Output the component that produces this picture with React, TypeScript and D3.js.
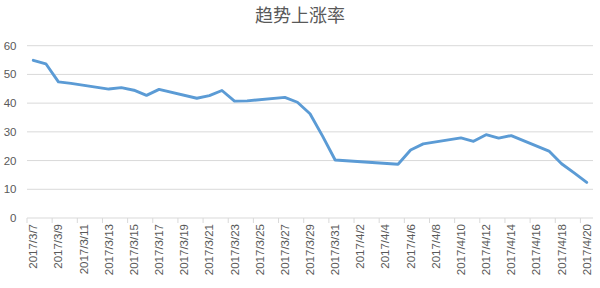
import React from "react";
import * as d3 from "d3";

const dates: string[] = [
  "2017-03-07", "2017-03-08", "2017-03-09", "2017-03-10", "2017-03-13", "2017-03-14",
  "2017-03-15", "2017-03-16", "2017-03-17", "2017-03-20", "2017-03-21", "2017-03-22",
  "2017-03-23", "2017-03-24", "2017-03-27", "2017-03-28", "2017-03-29", "2017-03-30",
  "2017-03-31", "2017-04-05", "2017-04-06", "2017-04-07", "2017-04-10", "2017-04-11",
  "2017-04-12", "2017-04-13", "2017-04-14", "2017-04-17", "2017-04-18", "2017-04-19",
  "2017-04-20",
];
const values: number[] = [
  54.9, 53.7, 47.4, 46.9, 44.9, 45.4,
  44.5, 42.7, 44.8, 41.7, 42.6, 44.4,
  40.7, 40.8, 42.0, 40.3, 36.3, 28.5,
  20.2, 18.7, 23.7, 25.8, 27.9, 26.7,
  29.0, 27.8, 28.7, 23.3, 18.9, 15.7,
  12.4,
];
const yTicks: number[] = [0, 10, 20, 30, 40, 50, 60];
const title = "趋势上涨率";
const axisStart = "2017-03-07";
const axisEnd = "2017-04-21";

const W = 600;
const H = 288;
const left = 27;
const right = 593;
const top = 45.7;
const bottom = 218;
const gray = "#595959";
const gridColor = "#d9d9d9";

const parse = (s: string) => new Date(s + "T00:00:00Z");

export default function App() {
  const x = d3.scaleUtc().domain([parse(axisStart), parse(axisEnd)]).range([left, right]);
  const y = d3.scaleLinear().domain([0, 60]).range([bottom, top]);
  const halfDay = 12 * 3600 * 1000;
  const pts = dates.map((d, i) => ({ t: new Date(parse(d).getTime() + halfDay), v: values[i] }));
  const line = d3
    .line<{ t: Date; v: number }>()
    .x((p) => x(p.t))
    .y((p) => y(p.v));
  const ticks: Date[] = [];
  for (let t = parse(axisStart); t < parse(axisEnd); t = d3.utcDay.offset(t, 2)) ticks.push(t);
  const fmt = (d: Date) => `${d.getUTCFullYear()}/${d.getUTCMonth() + 1}/${d.getUTCDate()}`;
  const font = "'Noto Sans CJK SC', 'Liberation Sans', sans-serif";

  return (
    <svg
      width={W}
      height={H}
      style={{ position: "absolute", left: 0, top: 0, background: "#fff" }}
      fontFamily={font}
    >
      <rect x={0} y={0} width={W} height={H} fill="#fff" />
      <text x={300} y={22} textAnchor="middle" fontSize={18} fill={gray}>
        {title}
      </text>
      {yTicks.map((t) => (
        <g key={t}>
          {t > 0 && (
            <line x1={left} x2={right} y1={y(t)} y2={y(t)} stroke={gridColor} strokeWidth={1} />
          )}
          <text
            x={16.5}
            y={y(t)}
            dy="0.35em"
            textAnchor="end"
            fontSize={11.5}
            fill={gray}
            fontFamily="'Liberation Sans', sans-serif"
          >
            {t}
          </text>
        </g>
      ))}
      <line x1={left} x2={right} y1={bottom} y2={bottom} stroke={gridColor} strokeWidth={1} />
      {ticks.map((t) => (
        <g key={t.toISOString()}>
          <line x1={x(t)} x2={x(t)} y1={bottom} y2={bottom + 5} stroke={gridColor} strokeWidth={1} />
          <text
            transform={`translate(${x(new Date(t.getTime() + halfDay))},${bottom + 6}) rotate(-90)`}
            textAnchor="end"
            dy="0.35em"
            fontSize={11.5}
            fill={gray}
            fontFamily="'Liberation Sans', sans-serif"
          >
            {fmt(t)}
          </text>
        </g>
      ))}
      <path
        d={line(pts) || ""}
        fill="none"
        stroke="#5B9BD5"
        strokeWidth={2.9}
        strokeLinejoin="round"
        strokeLinecap="round"
      />
    </svg>
  );
}
